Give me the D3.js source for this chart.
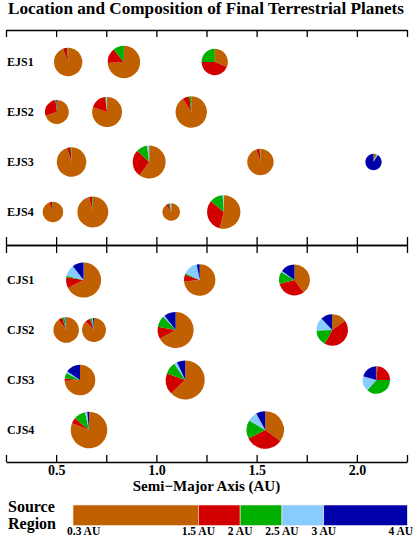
<!DOCTYPE html>
<html>
<head>
<meta charset="utf-8">
<script src="https://cdn.jsdelivr.net/npm/d3@7"></script>
<style>
  body { margin: 0; background: #fff; }
  text { font-family: "Liberation Serif", "Times New Roman", serif; font-weight: bold; }
</style>
</head>
<body>
<script>
// source regions (AU boundaries) and colours
var regionEdges = [0.3, 1.5, 2, 2.5, 3, 4];
var regionLabels = ["0.3 AU", "1.5 AU", "2 AU", "2.5 AU", "3 AU", "4 AU"];
var regionColors = ["#c06000", "#d20000", "#00b000", "#88ccff", "#0000aa"];

var axisTicks = [0.25, 0.5, 0.75, 1.0, 1.25, 1.5, 1.75, 2.0, 2.25];
var axisLabels = [0.5, 1.0, 1.5, 2.0];

var topRuns = ["EJS1", "EJS2", "EJS3", "EJS4"];
var bottomRuns = ["CJS1", "CJS2", "CJS3", "CJS4"];

// planets: run, semi-major axis (AU), mass (Earth masses), fractions from each source region
var planetRun = ["EJS1","EJS1","EJS1",
                 "EJS2","EJS2","EJS2",
                 "EJS3","EJS3","EJS3","EJS3",
                 "EJS4","EJS4","EJS4","EJS4",
                 "CJS1","CJS1","CJS1",
                 "CJS2","CJS2","CJS2","CJS2",
                 "CJS3","CJS3","CJS3",
                 "CJS4","CJS4"];
var planetA = [0.56, 0.838, 1.291,
               0.504, 0.754, 1.174,
               0.577, 0.964, 1.519, 2.083,
               0.484, 0.683, 1.074, 1.336,
               0.637, 1.216, 1.689,
               0.55, 0.689, 1.096, 1.877,
               0.619, 1.144, 2.097,
               0.664, 1.543];
var planetMass = [0.85, 1.26, 0.68,
                  0.51, 1.00, 1.15,
                  0.96, 1.33, 0.68, 0.16,
                  0.32, 1.10, 0.20, 1.38,
                  1.59, 1.15, 1.10,
                  0.62, 0.51, 1.73, 1.15,
                  1.06, 2.20, 0.76,
                  1.82, 1.94];
var planetFrac = [
  [0.94, 0.05, 0.01, 0, 0],
  [0.74, 0.15, 0.11, 0, 0],
  [0.31, 0.44, 0.25, 0, 0],
  [0.70, 0.28, 0.005, 0.005, 0.01],
  [0.80, 0.18, 0.01, 0.01, 0],
  [0.91, 0.07, 0.02, 0, 0],
  [0.95, 0.04, 0.01, 0, 0],
  [0.60, 0.27, 0.11, 0.02, 0],
  [0.95, 0.04, 0.01, 0, 0],
  [0.04, 0.01, 0.02, 0.02, 0.91],
  [0.94, 0.05, 0.01, 0, 0],
  [0.96, 0.03, 0.01, 0, 0],
  [0.90, 0.05, 0.03, 0.02, 0],
  [0.54, 0.32, 0.13, 0.01, 0],
  [0.675, 0.10, 0.015, 0.105, 0.105],
  [0.735, 0.07, 0.015, 0.15, 0.03],
  [0.40, 0.31, 0.125, 0.015, 0.15],
  [0.90, 0.05, 0.03, 0.01, 0.01],
  [0.875, 0.07, 0.025, 0.015, 0.015],
  [0.67, 0.11, 0.10, 0.015, 0.105],
  [0.15, 0.43, 0.165, 0.135, 0.12],
  [0.74, 0.025, 0.06, 0.02, 0.155],
  [0.63, 0.175, 0.10, 0.025, 0.07],
  [0.015, 0.235, 0.365, 0.18, 0.205],
  [0.81, 0.05, 0.105, 0.02, 0.015],
  [0.35, 0.325, 0.16, 0.085, 0.08]
];

var width = 415, height = 537;

var svg = d3.select("body").append("svg")
    .attr("width", width)
    .attr("height", height);

var x = d3.scaleLinear().domain([0.25, 2.25]).range([6, 407]);

// radius grows with the cube root of mass
var r = d3.scalePow().exponent(1 / 3).domain([0, 1]).range([0, 15]);

var allRuns = topRuns.concat(bottomRuns);
var rowY = d3.scaleOrdinal()
    .domain(allRuns)
    .range([62, 112, 162, 212, 280, 330, 380, 430]);

// title
svg.append("text")
    .attr("x", 206)
    .attr("y", 14)
    .attr("text-anchor", "middle")
    .style("font-size", "17.2px")
    .text("Location and Composition of Final Terrestrial Planets");

// axes
function styleAxis(g) {
    g.selectAll("path, line").attr("stroke", "#000").attr("stroke-width", 1.3);
    g.selectAll("text").style("font-family", "'Liberation Serif', serif")
        .style("font-weight", "bold").style("font-size", "14px").attr("fill", "#000");
}

var noLabel = function () { return ""; };

svg.append("g").attr("transform", "translate(0,30)")
    .call(d3.axisBottom(x).tickValues(axisTicks).tickSize(7).tickSizeOuter(0).tickFormat(noLabel))
    .call(styleAxis);

svg.append("g").attr("transform", "translate(0,245)")
    .call(d3.axisTop(x).tickValues(axisTicks).tickSize(8).tickSizeOuter(0).tickFormat(noLabel))
    .call(styleAxis);

svg.append("g").attr("transform", "translate(0,245)")
    .call(d3.axisBottom(x).tickValues(axisTicks).tickSize(8).tickSizeOuter(0).tickFormat(noLabel))
    .call(styleAxis);

svg.append("g").attr("transform", "translate(0,462)")
    .call(d3.axisBottom(x).tickValues(axisTicks).tickSize(-7).tickSizeOuter(0).tickPadding(3)
        .tickFormat(function (d) { return axisLabels.indexOf(d) >= 0 ? d3.format(".1f")(d) : ""; }))
    .call(styleAxis);

svg.append("text")
    .attr("x", (x.range()[0] + x.range()[1]) / 2)
    .attr("y", 491)
    .attr("text-anchor", "middle")
    .style("font-size", "15px")
    .text("Semi\u2212Major Axis (AU)");

// row labels
svg.selectAll(".runlabel")
    .data(allRuns)
    .enter()
    .append("text")
    .attr("class", "runlabel")
    .attr("x", 7)
    .attr("y", function (d) { return rowY(d) + 4; })
    .style("font-size", "12px")
    .text(function (d) { return d; });

// pies
var planets = [];
for (var i = 0; i < planetA.length; i++) {
    planets[i] = { run: planetRun[i], a: planetA[i], mass: planetMass[i], frac: planetFrac[i] };
}

var pie = d3.pie().sort(null).value(function (d) { return d; });
var arc = d3.arc().innerRadius(0);

var pg = svg.selectAll(".planet")
    .data(planets)
    .enter()
    .append("g")
    .attr("class", "planet")
    .attr("transform", function (d) { return "translate(" + x(d.a) + "," + rowY(d.run) + ")"; });

pg.selectAll("path")
    .data(function (d) {
        var rad = r(d.mass);
        return pie(d.frac).map(function (s) { s.rad = rad; return s; });
    })
    .enter()
    .append("path")
    .attr("d", function (s) { return arc.outerRadius(s.rad)(s); })
    .attr("fill", function (s, j) { return regionColors[j]; });

// source region legend
svg.append("text").attr("x", 8).attr("y", 512).style("font-size", "16px").text("Source");
svg.append("text").attr("x", 8).attr("y", 529).style("font-size", "16px").text("Region");

// legend bar: first region drawn three units wide, last two, others one
var unit = (407.3 - 73) / 8;
var legendX = d3.scaleLinear()
    .domain(regionEdges)
    .range([73, 73 + 3 * unit, 73 + 4 * unit, 73 + 5 * unit, 73 + 6 * unit, 73 + 8 * unit]);

svg.selectAll(".region")
    .data(regionColors)
    .enter()
    .append("rect")
    .attr("class", "region")
    .attr("x", function (d, j) { return legendX(regionEdges[j]); })
    .attr("y", 505)
    .attr("width", function (d, j) { return legendX(regionEdges[j + 1]) - legendX(regionEdges[j]); })
    .attr("height", 20.5)
    .attr("fill", function (d) { return d; })
    .attr("stroke", "#f4e8e0")
    .attr("stroke-width", 0.6);

svg.selectAll(".rlabel")
    .data(regionLabels)
    .enter()
    .append("text")
    .attr("class", "rlabel")
    .attr("x", function (d, j) {
        if (j === 0) return 67;
        if (j === regionLabels.length - 1) return 413;
        return legendX(regionEdges[j]);
    })
    .attr("y", 535)
    .attr("text-anchor", function (d, j) {
        if (j === 0) return "start";
        if (j === regionLabels.length - 1) return "end";
        return "middle";
    })
    .style("font-size", "11.5px")
    .text(function (d) { return d; });
</script>
</body>
</html>
